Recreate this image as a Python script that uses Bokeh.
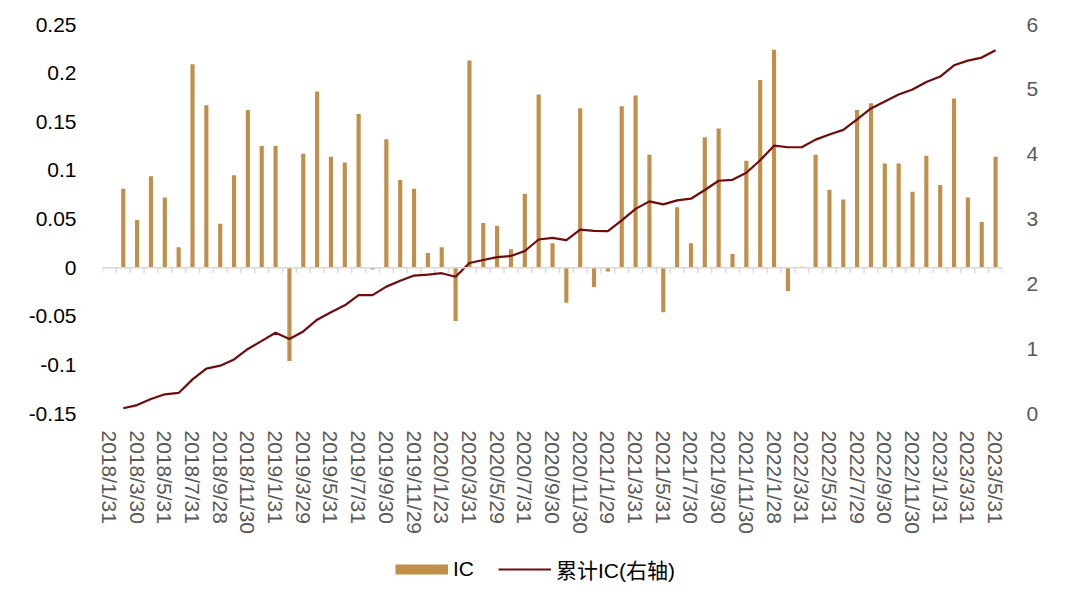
import numpy as np
from bokeh.plotting import figure
from bokeh.layouts import column
from bokeh.models import (Range1d, LinearAxis, FixedTicker, CustomJSTickFormatter,
                          Span, Legend, LegendItem)
from bokeh.embed import file_html
from bokeh.resources import INLINE

# ---- data -------------------------------------------------------------
tick_labels = [
    "2018/1/31", "2018/3/30", "2018/5/31", "2018/7/31", "2018/9/28", "2018/11/30",
    "2019/1/31", "2019/3/29", "2019/5/31", "2019/7/31", "2019/9/30", "2019/11/29",
    "2020/1/23", "2020/3/31", "2020/5/29", "2020/7/31", "2020/9/30", "2020/11/30",
    "2021/1/29", "2021/3/31", "2021/5/31", "2021/7/30", "2021/9/30", "2021/11/30",
    "2022/1/28", "2022/3/31", "2022/5/31", "2022/7/29", "2022/9/30", "2022/11/30",
    "2023/1/31", "2023/3/31", "2023/5/31",
]

# monthly IC, 2018/2 .. 2023/5 (the first month 2018/1 has no value)
ic = [
    0.081, 0.049, 0.094, 0.072, 0.021, 0.209, 0.167, 0.045, 0.095, 0.162, 0.125,
    0.125, -0.096, 0.117, 0.181, 0.114, 0.108, 0.158, -0.002, 0.132, 0.090, 0.081,
    0.015, 0.021, -0.055, 0.213, 0.046, 0.043, 0.019, 0.076, 0.178, 0.025, -0.036,
    0.164, -0.020, -0.004, 0.166, 0.177, 0.116, -0.046, 0.062, 0.025, 0.134, 0.143,
    0.014, 0.110, 0.193, 0.224, -0.024, 0.001, 0.116, 0.080, 0.070, 0.162, 0.169,
    0.107, 0.107, 0.078, 0.115, 0.085, 0.174, 0.072, 0.047, 0.114,
]

# cumulative IC (right axis)
cum_ic = [
    0.081, 0.130, 0.224, 0.296, 0.317, 0.526, 0.693, 0.738, 0.833, 0.995, 1.120,
    1.245, 1.149, 1.266, 1.447, 1.561, 1.669, 1.827, 1.825, 1.957, 2.047, 2.128,
    2.143, 2.164, 2.109, 2.322, 2.368, 2.411, 2.430, 2.506, 2.684, 2.709, 2.673,
    2.837, 2.817, 2.813, 2.979, 3.156, 3.272, 3.226, 3.288, 3.313, 3.447, 3.590,
    3.604, 3.714, 3.907, 4.131, 4.107, 4.108, 4.224, 4.304, 4.374, 4.536, 4.705,
    4.812, 4.919, 4.997, 5.112, 5.197, 5.371, 5.443, 5.490, 5.604,
]

left_ticks = [-0.15, -0.1, -0.05, 0, 0.05, 0.1, 0.15, 0.2, 0.25]
right_ticks = [0, 1, 2, 3, 4, 5, 6]
series_names = ["IC", "累计IC(右轴)"]

# ---- layout -------------------------------------------------------------
n_cat = 2 * (len(tick_labels) - 1) + 1          # 65 monthly categories
x_vals = list(range(n_cat - len(ic), n_cat))     # 1 .. 64

FONT = "Liberation Sans, Arial, Noto Sans CJK SC"
BAR_C = "#C0904A"
LINE_C = "#6E0B0B"
GREY_TXT = "#595959"
W = 1072

p = figure(width=W, height=540, output_backend="svg", toolbar_location=None,
           x_range=Range1d(-0.5, n_cat - 0.5), y_range=Range1d(-0.15, 0.25),
           min_border_left=102, min_border_right=70, min_border_top=24,
           min_border_bottom=127)
p.outline_line_color = None
p.xgrid.visible = False
p.ygrid.visible = False
p.background_fill_color = "white"

p.extra_y_ranges = {"cum": Range1d(0, 6)}

# zero line with category tick marks
p.add_layout(Span(location=0, dimension="width", line_color="#D9D9D9", line_width=1.5))
bounds = np.arange(n_cat + 1) - 0.5
p.segment(x0=bounds, y0=np.zeros_like(bounds), x1=bounds, y1=np.full_like(bounds, -0.0055),
          line_color="#D9D9D9", line_width=1.5)

bars = p.vbar(x=x_vals, top=ic, bottom=0, width=0.3, fill_color=BAR_C, line_color=None)
line = p.line(x=x_vals, y=cum_ic, y_range_name="cum", line_color=LINE_C, line_width=2.2)

# x axis (labels only)
xa = p.xaxis[0]
xa.ticker = FixedTicker(ticks=list(range(0, n_cat, 2)))
xa.major_label_overrides = {t: lbl for t, lbl in zip(range(0, n_cat, 2), tick_labels)}
xa.major_label_orientation = "vertical"
xa.axis_line_color = None
xa.major_tick_line_color = None
xa.minor_tick_line_color = None
xa.major_label_standoff = 11
xa.major_label_text_font = FONT
xa.major_label_text_font_size = "21px"
xa.major_label_text_color = GREY_TXT

# left axis
ya = p.yaxis[0]
ya.ticker = FixedTicker(ticks=left_ticks)
ya.formatter = CustomJSTickFormatter(code="return tick.toFixed(2).replace(/\\.?0+$/, '');")
ya.axis_line_color = None
ya.major_tick_line_color = None
ya.minor_tick_line_color = None
ya.major_label_standoff = 20
ya.major_label_text_font = FONT
ya.major_label_text_font_size = "21px"
ya.major_label_text_color = "#000000"

# right axis
ra = LinearAxis(y_range_name="cum", ticker=FixedTicker(ticks=right_ticks))
ra.axis_line_color = None
ra.major_tick_line_color = None
ra.minor_tick_line_color = None
ra.major_label_standoff = 18
ra.major_label_text_font = FONT
ra.major_label_text_font_size = "21px"
ra.major_label_text_color = GREY_TXT
p.add_layout(ra, "right")

# ---- legend strip (separate small figure so the legend is not clipped) ----
# key renderers carry the real series but lie outside this strip's view
lg = figure(width=W, height=66, output_backend="svg", toolbar_location=None,
            x_range=Range1d(-0.5, n_cat - 0.5), y_range=Range1d(100, 101),
            x_axis_location=None, y_axis_location=None,
            min_border_left=0, min_border_right=0, min_border_top=0, min_border_bottom=0)
lg.outline_line_color = None
lg.xgrid.visible = False
lg.ygrid.visible = False
ic_key = lg.line(x=x_vals, y=ic, line_color=BAR_C, line_width=10, line_cap="butt")
cum_key = lg.line(x=x_vals, y=cum_ic, line_color=LINE_C, line_width=2.2)

legend = Legend(items=[LegendItem(label=series_names[0], renderers=[ic_key]),
                       LegendItem(label=series_names[1], renderers=[cum_key])],
                location=(293, 22), orientation="horizontal",
                glyph_width=53, glyph_height=12, label_standoff=5, spacing=24,
                padding=0, margin=0, border_line_alpha=0, background_fill_alpha=0,
                label_text_font=FONT, label_text_font_size="21px",
                label_text_color="#000000")
lg.add_layout(legend)

layout = column(p, lg, spacing=0)
open("out.html", "w").write(file_html(layout, INLINE))
